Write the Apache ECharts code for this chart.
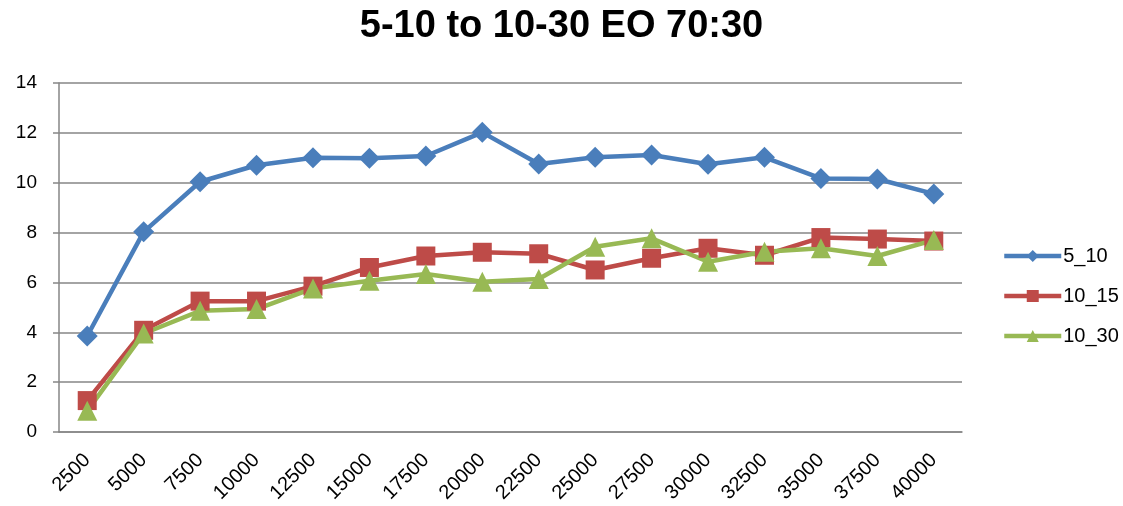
<!DOCTYPE html>
<html><head><meta charset="utf-8">
<script src="https://cdn.jsdelivr.net/npm/echarts@6/dist/echarts.min.js"></script>
<style>html,body{margin:0;padding:0;background:#fff}#c{width:1123px;height:506px}</style>
</head><body><div id="c"></div>
<script>
const categories = ['2500','5000','7500','10000','12500','15000','17500','20000','22500','25000','27500','30000','32500','35000','37500','40000'];
const s5_10 = [3.85, 8.03, 10.04, 10.7, 11.0, 10.98, 11.07, 12.02, 10.75, 11.02, 11.11, 10.74, 11.02, 10.17, 10.15, 9.55];
const s10_15 = [1.26, 4.08, 5.25, 5.25, 5.85, 6.6, 7.06, 7.21, 7.15, 6.5, 6.97, 7.37, 7.09, 7.8, 7.74, 7.66];
const s10_30 = [0.85, 3.95, 4.86, 4.93, 5.76, 6.07, 6.34, 6.03, 6.14, 7.43, 7.77, 6.83, 7.23, 7.37, 7.06, 7.7];
const names = ['5_10','10_15','10_30'];
const yTicks = {min:0, max:14, interval:2};

const font = '"Liberation Sans", Arial, sans-serif';
const colors = ['#4A7EBB','#BE4B48','#98B954'];
const chart = echarts.init(document.getElementById('c'), null, {renderer:'canvas'});
const mk = (name, data, sym, size, color) => ({
  name, type:'line', data, symbol:sym, symbolSize:size,
  lineStyle:{width:4.5, color}, itemStyle:{color}, emphasis:{disabled:true}
});
chart.setOption({
  animation:false,
  title:{text:'5-10 to 10-30 EO 70:30', left:'center', top:3,
    textStyle:{fontFamily:font, fontSize:38, fontWeight:'bold', color:'#000'}},
  grid:{left:59, right:161, top:83, bottom:74, containLabel:false},
  legend:{orient:'vertical', left:997, top:241, itemGap:20, itemWidth:57, itemHeight:15,
    lineStyle:{width:4.5},
    textStyle:{fontFamily:font, fontSize:20, color:'#000', padding:[0,0,0,-3]},
    data:names},
  xAxis:{type:'category', data:categories, boundaryGap:true,
    axisLine:{lineStyle:{color:'#868686', width:1.5}},
    axisTick:{length:6, lineStyle:{color:'#868686', width:1.5}},
    axisLabel:{rotate:45, fontFamily:font, fontSize:20, color:'#000', margin:25, interval:0}},
  yAxis:{type:'value', min:yTicks.min, max:yTicks.max, interval:yTicks.interval,
    axisLine:{show:true, lineStyle:{color:'#868686', width:1.5}},
    axisTick:{show:true, length:6, lineStyle:{color:'#868686', width:1.5}},
    axisLabel:{fontFamily:font, fontSize:19, color:'#000', margin:22},
    splitLine:{lineStyle:{color:'#868686', width:1.5}}},
  series:[
    mk(names[0], s5_10, 'diamond', 21, colors[0]),
    mk(names[1], s10_15, 'rect', 19, colors[1]),
    mk(names[2], s10_30, 'triangle', 20, colors[2])
  ]
});
</script></body></html>
